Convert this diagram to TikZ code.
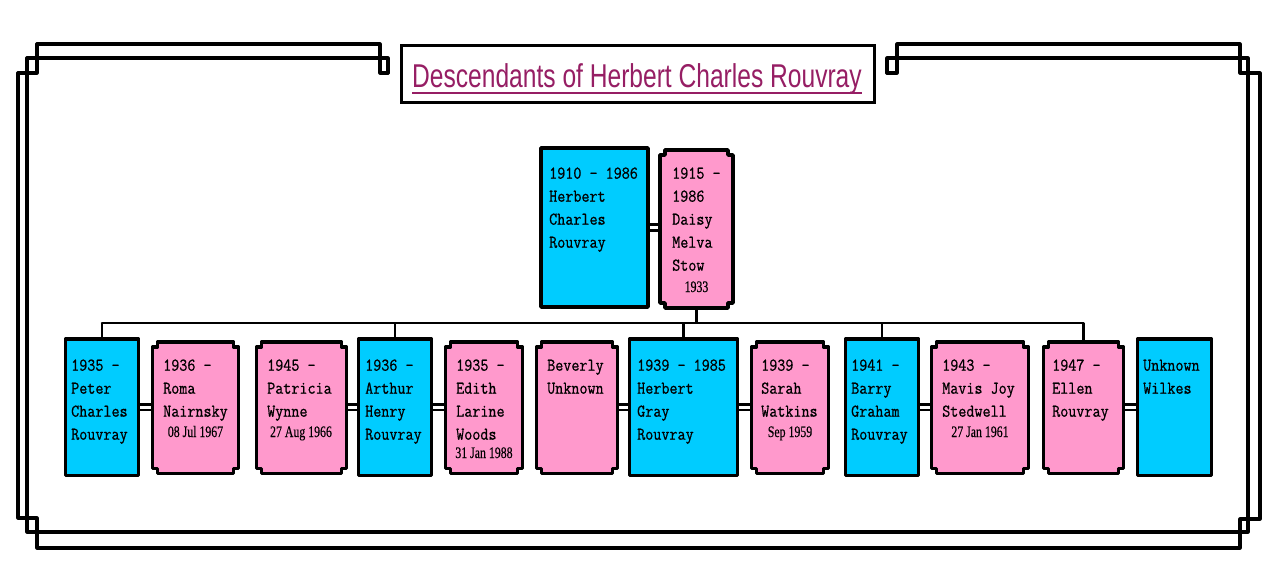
\documentclass[tikz,border=0pt]{standalone}
\usepackage{fontspec}
\setmainfont{Liberation Serif}
\newfontfamily\monof[FakeStretch=0.87,FakeBold=0.7]{Latin Modern Mono}
\newfontfamily\datef[FakeStretch=0.74,FakeBold=0.3]{Liberation Serif}
\newfontfamily\titlef[FakeStretch=0.745]{Liberation Sans}
\usetikzlibrary{calc}
\definecolor{bluec}{RGB}{0,204,255}
\definecolor{pinkc}{RGB}{255,153,204}
\definecolor{titlec}{RGB}{150,30,100}
\newcommand\notchedbox[1]{%
  \draw[pinkframe] ($(#1.north west)+(5,0)$) -- ($(#1.north east)+(-5,0)$) -- ++(0,5) -- ++(5,0)
    -- ($(#1.south east)+(0,-5)$) -- ++(-5,0) -- ++(0,5)
    -- ($(#1.south west)+(5,0)$) -- ++(0,-5) -- ++(-5,0)
    -- ($(#1.north west)+(0,5)$) -- ++(5,0) -- cycle;}
\begin{document}
\begin{tikzpicture}[x=1pt,y=-1pt,
  framel/.style={line width=3.2pt, line join=round, line cap=round},
  conn/.style={line width=2.6pt},
  wed/.style={line width=2.6pt, double=white, double distance=3pt},
  bluebox/.style={draw, fill=bluec, line width=3.4pt, line join=round, rectangle, inner sep=0pt, outer sep=0pt, anchor=north west},
  pinkbox/.style={rectangle, inner sep=0pt, outer sep=0pt, anchor=north west},
  pinkframe/.style={draw, fill=pinkc, line width=3.4pt, line join=round},
  monotext/.style={font=\monof\fontsize{18}{23}\selectfont, align=left, inner sep=0pt, anchor=north west},
  datetext/.style={font=\datef\fontsize{16}{18}\selectfont, inner sep=0pt, anchor=base},
  titlebox/.style={draw, line width=3pt, rectangle, inner sep=0pt, outer sep=0pt, fill=white},
  titletext/.style={font=\titlef\fontsize{33}{36}\selectfont, text=titlec, inner sep=0pt, anchor=base}
]
\fill[white] (0,0) rectangle (1278,584);
\useasboundingbox (0,0) rectangle (1278,584);

% frame
\draw[framel] (388,73) -- (388,58) -- (27,58) -- (27,532) -- (1248,532) -- (1248,58) -- (887,58) -- (887,73);
\draw[framel] (388,73) -- (380,73) -- (380,44) -- (37,44) -- (37,73) -- (18,73) -- (18,518) -- (37,518) -- (37,548)
  -- (1240,548) -- (1240,519) -- (1260,519) -- (1260,73) -- (1240,73) -- (1240,44) -- (897,44) -- (897,73) -- (887,73);

% title
\node[titlebox, minimum width=473pt, minimum height=57pt] (titlebox) at (638,74) {};
\node[titletext] (title) at (637,87) {Descendants of Herbert Charles Rouvray};
\draw[titlec, line width=2pt] ($(title.base west)+(0,6)$) -- ($(title.base east)+(0,6)$);

% box anchors (positions only)
\node[pinkbox, minimum width=107pt, minimum height=159pt] (herbert) at (541,148) {};
\node[pinkbox, minimum width=73pt, minimum height=158pt] (daisy) at (660,150) {};
\node[pinkbox, minimum width=73pt, minimum height=136.5pt] (peter) at (65.5,339) {};
\node[pinkbox, minimum width=86pt, minimum height=131.5pt] (roma) at (152.5,342) {};
\node[pinkbox, minimum width=90pt, minimum height=131.5pt] (patricia) at (256.5,342) {};
\node[pinkbox, minimum width=73pt, minimum height=136.5pt] (arthur) at (358.5,339) {};
\node[pinkbox, minimum width=77pt, minimum height=131.5pt] (edith) at (445.5,342) {};
\node[pinkbox, minimum width=81pt, minimum height=131.5pt] (beverly) at (536.5,342) {};
\node[pinkbox, minimum width=108pt, minimum height=136.5pt] (hgray) at (629.5,339) {};
\node[pinkbox, minimum width=77pt, minimum height=131.5pt] (sarah) at (751.5,342) {};
\node[pinkbox, minimum width=73pt, minimum height=136.5pt] (barry) at (845.5,339) {};
\node[pinkbox, minimum width=97pt, minimum height=131.5pt] (mavis) at (931.5,342) {};
\node[pinkbox, minimum width=80pt, minimum height=131.5pt] (ellen) at (1043.5,342) {};
\node[pinkbox, minimum width=74pt, minimum height=136.5pt] (wilkes) at (1137.5,339) {};

% connectors
\coordinate (bus) at (0,323);
\draw[wed] (herbert.east) -- (herbert.east -| daisy.west);
\draw[conn] (daisy.south) -- (daisy.south |- bus);
\draw[conn, line cap=round] (peter.north |- bus) -- (ellen.north |- bus);
\foreach \c in {peter,arthur,hgray,barry,ellen} \draw[conn] (\c.north) -- (\c.north |- bus);
\draw[wed] (peter.east) -- (peter.east -| roma.west);
\draw[wed] (arthur.west) -- (arthur.west -| patricia.east);
\draw[wed] (arthur.east) -- (arthur.east -| edith.west);
\draw[wed] (hgray.west) -- (hgray.west -| beverly.east);
\draw[wed] (hgray.east) -- (hgray.east -| sarah.west);
\draw[wed] (barry.east) -- (barry.east -| mavis.west);
\draw[wed] (wilkes.west) -- (wilkes.west -| ellen.east);

% blue boxes
\foreach \b in {herbert,peter,arthur,hgray,barry,wilkes}
  \draw[bluebox] (\b.north west) rectangle (\b.south east);
% pink boxes
\foreach \p in {daisy,roma,patricia,edith,beverly,sarah,mavis,ellen}
  \notchedbox{\p};

% texts
\node[monotext] (herbertT) at (549,162.4) {\strut 1910 - 1986\\Herbert\\Charles\\Rouvray};
\node[monotext] (daisyT) at (672,162.4) {\strut 1915 -\\1986\\Daisy\\Melva\\Stow};
\node[datetext] (daisyD) at (696.5,292) {1933};

\node[monotext] (peterT) at (71,354.4) {\strut 1935 -\\Peter\\Charles\\Rouvray};
\node[monotext] (romaT) at (163,354.4) {\strut 1936 -\\Roma\\Nairnsky};
\node[datetext] (romaD) at (195.5,437) {08 Jul 1967};
\node[monotext] (patriciaT) at (267,354.4) {\strut 1945 -\\Patricia\\Wynne};
\node[datetext] (patriciaD) at (301,437) {27 Aug 1966};
\node[monotext] (arthurT) at (365,354.4) {\strut 1936 -\\Arthur\\Henry\\Rouvray};
\node[monotext] (edithT) at (456,354.4) {\strut 1935 -\\Edith\\Larine\\Woods};
\node[datetext] (edithD) at (484,458) {31 Jan 1988};
\node[monotext] (beverlyT) at (547,354.4) {\strut Beverly\\Unknown};
\node[monotext] (hgrayT) at (637,354.4) {\strut 1939 - 1985\\Herbert\\Gray\\Rouvray};
\node[monotext] (sarahT) at (761,354.4) {\strut 1939 -\\Sarah\\Watkins};
\node[datetext] (sarahD) at (790,437) {Sep 1959};
\node[monotext] (barryT) at (851,354.4) {\strut 1941 -\\Barry\\Graham\\Rouvray};
\node[monotext] (mavisT) at (942,354.4) {\strut 1943 -\\Mavis Joy\\Stedwell};
\node[datetext] (mavisD) at (980,437) {27 Jan 1961};
\node[monotext] (ellenT) at (1052,354.4) {\strut 1947 -\\Ellen\\Rouvray};
\node[monotext] (wilkesT) at (1143,354.4) {\strut Unknown\\Wilkes};
\end{tikzpicture}
\end{document}
